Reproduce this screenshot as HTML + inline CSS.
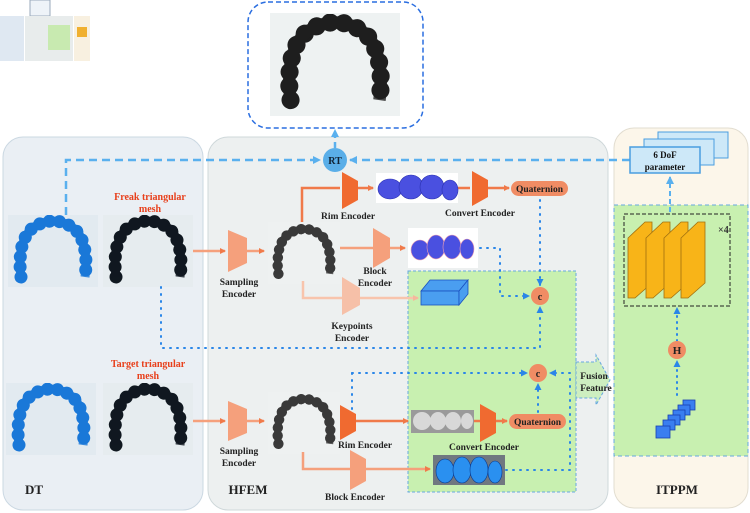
<!DOCTYPE html>
<html><head><meta charset="utf-8"><style>
html,body{margin:0;padding:0;background:#fff;}
svg{display:block;}
text{font-family:"Liberation Serif",serif;font-weight:bold;}
</style></head><body>
<svg width="750" height="513" viewBox="0 0 750 513" xmlns="http://www.w3.org/2000/svg">
<defs>
<symbol id="arch" viewBox="0 0 90 72">
<path d="M13,62 C10,40 14,20 26,12 C34,7 40,6 45,6 C50,6 56,7 64,12 C76,20 80,40 77,62" fill="none" stroke="currentColor" stroke-width="13" stroke-dasharray="0.1 10" stroke-linecap="round"/>
<path d="M13,62 C10,40 14,20 26,12 C34,7 40,6 45,6 C50,6 56,7 64,12 C76,20 80,40 77,62" fill="none" stroke="currentColor" stroke-width="9" stroke-opacity="0.8"/>
</symbol>
<marker id="ao" markerWidth="6" markerHeight="6" refX="5" refY="3" orient="auto" markerUnits="userSpaceOnUse"><path d="M0,0 L6,3 L0,6z" fill="#f07a4a"/></marker>
<marker id="ap" markerWidth="6" markerHeight="6" refX="5" refY="3" orient="auto" markerUnits="userSpaceOnUse"><path d="M0,0 L6,3 L0,6z" fill="#f5b89c"/></marker>
<marker id="ab" markerWidth="8" markerHeight="8" refX="7" refY="4" orient="auto" markerUnits="userSpaceOnUse"><path d="M0,0 L8,4 L0,8z" fill="#5ab0ee"/></marker>
<marker id="ad" markerWidth="7" markerHeight="7" refX="6" refY="3.5" orient="auto" markerUnits="userSpaceOnUse"><path d="M0,0 L7,3.5 L0,7z" fill="#2a86e8"/></marker>
</defs>

<rect x="30" y="0" width="20" height="16" fill="#eef3f8" stroke="#9ab"/>
<rect x="0" y="16" width="24" height="45" fill="#dfe8f2"/>
<rect x="25" y="16" width="48" height="45" fill="#e8ecec"/>
<rect x="48" y="25" width="22" height="25" fill="#c8eab0"/>
<rect x="74" y="16" width="16" height="45" fill="#f8f0e0"/>
<rect x="77" y="27" width="10" height="10" fill="#f0b030"/>

<rect x="3" y="137" width="200" height="373" rx="20" fill="#eaeff4" stroke="#cbd8e2"/>
<rect x="208" y="137" width="400" height="373" rx="20" fill="#edf0f0" stroke="#cfd8da"/>
<rect x="614" y="128" width="134" height="380" rx="20" fill="#fcf6ea" stroke="#e2ddd0"/>

<rect x="248" y="2" width="175" height="126" rx="20" fill="#fff" stroke="#2a6ee0" stroke-width="1.5" stroke-dasharray="5 3"/>
<rect x="270" y="13" width="130" height="103" fill="#eef2f2"/>
<use href="#arch" x="272" y="14" width="126" height="100" color="#1e1e1e"/>

<rect x="408" y="271" width="168" height="221" fill="#c8f0b0" stroke="#66a8e0" stroke-dasharray="3 2"/>
<rect x="614" y="205" width="134" height="251" fill="#c8f0b0" stroke="#66a8e0" stroke-dasharray="4 3"/>
<path d="M576,362 L596,362 L596,355 L610,380 L596,405 L596,398 L576,398z" fill="#cdeec0" stroke="#66a8e0" stroke-dasharray="3 2"/>

<path d="M66,215 L66,160 L320,160" fill="none" stroke="#5ab0ee" stroke-width="2.5" stroke-dasharray="8 5" marker-end="url(#ab)"/>
<path d="M630,160 L350,160" fill="none" stroke="#5ab0ee" stroke-width="2.5" stroke-dasharray="8 5" marker-end="url(#ab)"/>
<path d="M335,148 L335,130" fill="none" stroke="#5ab0ee" stroke-width="2.5" stroke-dasharray="6 4" marker-end="url(#ab)"/>
<circle cx="335" cy="160" r="12" fill="#5aaee8"/>
<text x="335" y="164" font-size="10" text-anchor="middle" fill="#123">RT</text>

<rect x="658" y="132" width="70" height="26" fill="#cde8f8" stroke="#4a9ee0"/>
<rect x="644" y="139" width="70" height="26" fill="#cde8f8" stroke="#4a9ee0"/>
<rect x="630" y="147" width="70" height="26" fill="#cde8f8" stroke="#4a9ee0" stroke-width="1.5"/>
<text x="665" y="158" font-size="9" text-anchor="middle" fill="#111">6 DoF</text>
<text x="665" y="170" font-size="9" text-anchor="middle" fill="#111">parameter</text>
<path d="M670,212 L670,177" stroke="#5ab0ee" stroke-width="2" stroke-dasharray="5 3" marker-end="url(#ab)"/>

<rect x="624" y="214" width="106" height="92" fill="none" stroke="#222" stroke-dasharray="4 2"/>
<g fill="#f8b418" stroke="#a07010" stroke-width="0.8">
<path d="M628,238 L645,222 L652,222 L652,283 L635,298 L628,298z"/>
<path d="M646,238 L663,222 L670,222 L670,283 L653,298 L646,298z"/>
<path d="M664,238 L681,222 L688,222 L688,283 L671,298 L664,298z"/>
<path d="M681,238 L698,222 L705,222 L705,283 L688,298 L681,298z"/>
</g>
<text x="718" y="233" font-size="10" fill="#333" font-weight="normal">×4</text>
<path d="M677,395 L677,361" stroke="#2a86e8" stroke-width="2" stroke-dasharray="1 5" stroke-linecap="round" marker-end="url(#ad)"/>
<path d="M677,341 L677,308" stroke="#2a86e8" stroke-width="2" stroke-dasharray="1 5" stroke-linecap="round" marker-end="url(#ad)"/>
<circle cx="677" cy="350" r="9" fill="#f08c64"/>
<text x="677" y="354" font-size="11" text-anchor="middle" fill="#222">H</text>
<g fill="#3a7ef0" stroke="#1a40b0" stroke-width="0.8">
<rect x="683" y="400" width="12" height="10"/><rect x="678" y="405" width="12" height="10"/><rect x="673" y="410" width="12" height="10"/><rect x="668" y="415" width="12" height="10"/><rect x="663" y="420" width="12" height="10"/><rect x="656" y="426" width="14" height="12"/>
</g>
<text x="677" y="494" font-size="13" text-anchor="middle" fill="#222">ITPPM</text>

<rect x="8" y="215" width="90" height="72" fill="#e2eaf0"/>
<use href="#arch" x="8" y="215" width="90" height="72" color="#1a78d8"/>
<rect x="103" y="215" width="90" height="72" fill="#e6ecef"/>
<use href="#arch" x="103" y="215" width="90" height="72" color="#101820"/>
<rect x="6" y="383" width="90" height="72" fill="#e2eaf0"/>
<use href="#arch" x="6" y="383" width="90" height="72" color="#1a78d8"/>
<rect x="103" y="383" width="90" height="72" fill="#e6ecef"/>
<use href="#arch" x="103" y="383" width="90" height="72" color="#101820"/>
<text x="150" y="200" font-size="10" text-anchor="middle" fill="#e8401c">Freak triangular</text>
<text x="150" y="212" font-size="10" text-anchor="middle" fill="#e8401c">mesh</text>
<text x="148" y="367" font-size="10" text-anchor="middle" fill="#e8401c">Target triangular</text>
<text x="148" y="379" font-size="10" text-anchor="middle" fill="#e8401c">mesh</text>
<text x="34" y="494" font-size="13" text-anchor="middle" fill="#222">DT</text>
<text x="248" y="494" font-size="13" text-anchor="middle" fill="#222">HFEM</text>

<g stroke="#f5a07c" stroke-width="2.5" fill="none">
<path d="M193,251 L225,251" marker-end="url(#ao)"/>
<path d="M247,251 L264,251" marker-end="url(#ao)"/>
<path d="M193,421 L225,421" marker-end="url(#ao)"/>
<path d="M247,421 L264,421" marker-end="url(#ao)"/>
</g>
<path d="M228,230 L247,238 L247,263 L228,272z" fill="#f5a07c"/>
<path d="M228,401 L247,409 L247,433 L228,441z" fill="#f5a07c"/>
<text x="239" y="285" font-size="9.5" text-anchor="middle" fill="#222">Sampling</text>
<text x="239" y="297" font-size="9.5" text-anchor="middle" fill="#222">Encoder</text>
<text x="239" y="454" font-size="9.5" text-anchor="middle" fill="#222">Sampling</text>
<text x="239" y="466" font-size="9.5" text-anchor="middle" fill="#222">Encoder</text>

<rect x="268" y="222" width="72" height="62" fill="#eef1f1"/>
<use href="#arch" x="268" y="222" width="72" height="62" color="#3a3a3a"/>
<rect x="268" y="392" width="72" height="62" fill="#eef1f1"/>
<use href="#arch" x="268" y="392" width="72" height="62" color="#3a3a3a"/>

<g fill="none" stroke-width="2.5">
<path d="M302,222 L302,188 L340,188" stroke="#f07a4a"/>
<path d="M358,188 L373,188" stroke="#f07a4a" marker-end="url(#ao)"/>
<path d="M458,188 L470,188" stroke="#f07a4a"/>
<path d="M488,188 L509,188" stroke="#f07a4a" marker-end="url(#ao)"/>
<path d="M340,248 L373,248" stroke="#f5a07c"/>
<path d="M390,248 L405,248" stroke="#f5a07c" marker-end="url(#ao)"/>
<path d="M303,281 L303,298 L342,298" stroke="#f8c4ac"/>
<path d="M360,298 L418,298" stroke="#f8c4ac" marker-end="url(#ap)"/>
</g>
<path d="M342,172 L358,181 L358,200 L342,209z" fill="#f06a30"/>
<text x="348" y="219" font-size="9.5" text-anchor="middle" fill="#222">Rim Encoder</text>
<rect x="376" y="173" width="82" height="30" fill="#fff"/>
<g fill="#4a50e0" stroke="#2a30b0" stroke-width="0.6"><ellipse cx="390" cy="189" rx="12" ry="10"/><ellipse cx="411" cy="187" rx="12" ry="12"/><ellipse cx="432" cy="187" rx="12" ry="12"/><ellipse cx="450" cy="190" rx="8" ry="10"/></g>
<path d="M472,171 L488,180 L488,197 L472,206z" fill="#f06a30"/>
<text x="480" y="216" font-size="9.5" text-anchor="middle" fill="#222">Convert Encoder</text>
<rect x="511" y="181" width="57" height="15" rx="7.5" fill="#f08c64"/>
<text x="539.5" y="192" font-size="9.5" text-anchor="middle" fill="#222">Quaternion</text>

<path d="M373,228 L390,238 L390,258 L373,268z" fill="#f5a07c"/>
<text x="375" y="274" font-size="9.5" text-anchor="middle" fill="#222">Block</text>
<text x="375" y="286" font-size="9.5" text-anchor="middle" fill="#222">Encoder</text>
<rect x="408" y="228" width="70" height="40" fill="#fff"/>
<g fill="#4a50e0" stroke="#f0a0b0" stroke-width="0.6"><ellipse cx="420" cy="250" rx="9" ry="10"/><ellipse cx="436" cy="247" rx="9" ry="12"/><ellipse cx="452" cy="247" rx="9" ry="12"/><ellipse cx="467" cy="249" rx="7" ry="10"/></g>
<path d="M342,277 L360,288 L360,305 L342,315z" fill="#f6c0a8"/>
<text x="352" y="329" font-size="9.5" text-anchor="middle" fill="#222">Keypoints</text>
<text x="352" y="341" font-size="9.5" text-anchor="middle" fill="#222">Encoder</text>
<g fill="#4a9ef0" stroke="#1a50c0" stroke-width="0.8"><path d="M421,291 L430,280 L468,280 L459,291z"/><rect x="421" y="291" width="38" height="14"/><path d="M459,291 L468,280 L468,294 L459,305z"/></g>

<g fill="none" stroke="#2a86e8" stroke-width="2" stroke-dasharray="1 6" stroke-linecap="round">
<path d="M540,200 L540,285" marker-end="url(#ad)"/>
<path d="M480,248 L500,248 L500,296 L529,296" marker-end="url(#ad)"/>
<path d="M161,287 L161,348 L540,348 L540,307" marker-end="url(#ad)"/>
<path d="M352,373 L527,373" marker-end="url(#ad)"/>
<path d="M352,373 L352,416"/>
<path d="M570,373 L550,373" marker-end="url(#ad)"/>
<path d="M538,412 L538,384" marker-end="url(#ad)"/>
<path d="M506,470 L570,470 L570,373"/>
</g>
<circle cx="540" cy="296" r="9" fill="#f08c64"/>
<text x="540" y="300" font-size="10" text-anchor="middle" fill="#222">c</text>
<circle cx="538" cy="373" r="9" fill="#f08c64"/>
<text x="538" y="377" font-size="10" text-anchor="middle" fill="#222">c</text>
<text x="594" y="379" font-size="9.5" text-anchor="middle" fill="#222">Fusion</text>
<text x="596" y="391" font-size="9.5" text-anchor="middle" fill="#222">Feature</text>

<g fill="none" stroke-width="2.5">
<path d="M356,421 L408,421" stroke="#f07a4a" marker-end="url(#ao)"/>
<path d="M474,421 L480,421" stroke="#f07a4a"/>
<path d="M496,421 L507,421" stroke="#f07a4a" marker-end="url(#ao)"/>
<path d="M303,452 L303,469 L350,469" stroke="#f5a07c"/>
<path d="M366,469 L430,469" stroke="#f5a07c" marker-end="url(#ao)"/>
</g>
<path d="M340,405 L356,414 L356,431 L340,440z" fill="#f06a30"/>
<text x="365" y="448" font-size="9.5" text-anchor="middle" fill="#222">Rim Encoder</text>
<rect x="411" y="410" width="63" height="23" fill="#9a9a9a"/>
<g fill="#d8d8d8"><ellipse cx="422" cy="421" rx="9" ry="9"/><ellipse cx="438" cy="421" rx="8" ry="9"/><ellipse cx="453" cy="421" rx="8" ry="9"/><ellipse cx="467" cy="421" rx="6" ry="8"/></g>
<path d="M480,404 L496,413 L496,433 L480,442z" fill="#f06a30"/>
<text x="484" y="450" font-size="9.5" text-anchor="middle" fill="#222">Convert Encoder</text>
<rect x="509" y="414" width="57" height="15" rx="7.5" fill="#f08c64"/>
<text x="537.5" y="425" font-size="9.5" text-anchor="middle" fill="#222">Quaternion</text>
<path d="M350,450 L366,459 L366,481 L350,490z" fill="#f5a07c"/>
<text x="355" y="500" font-size="9.5" text-anchor="middle" fill="#222">Block Encoder</text>
<rect x="433" y="455" width="72" height="30" fill="#707880"/>
<g fill="#2a90f0" stroke="#0a3a90" stroke-width="0.6"><ellipse cx="445" cy="471" rx="9" ry="12"/><ellipse cx="462" cy="470" rx="9" ry="13"/><ellipse cx="479" cy="470" rx="9" ry="13"/><ellipse cx="495" cy="472" rx="7" ry="11"/></g>
</svg>
</body></html>
